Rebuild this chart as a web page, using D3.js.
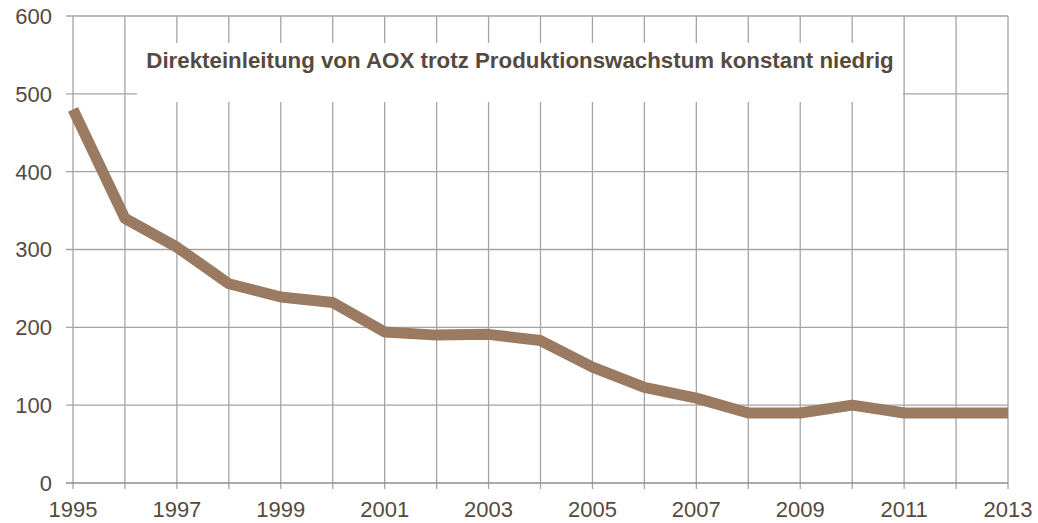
<!DOCTYPE html>
<html>
<head>
<meta charset="utf-8">
<script src="https://cdn.jsdelivr.net/npm/d3@7"></script>
<style>
  body { margin: 0; background: #fff; }
  svg { display: block; font-family: Arial, "Liberation Sans", sans-serif; }
</style>
</head>
<body>
<svg id="drawing_region"></svg>
<script>
// data
const years = [1995, 1996, 1997, 1998, 1999, 2000, 2001, 2002, 2003, 2004,
               2005, 2006, 2007, 2008, 2009, 2010, 2011, 2012, 2013];
const aox = [480, 340, 303, 256, 239, 232, 194, 190, 191, 183,
             149, 123, 109, 90, 90, 100, 90, 90, 90];
const yTicks = [0, 100, 200, 300, 400, 500, 600];
const xLabels = [1995, 1997, 1999, 2001, 2003, 2005, 2007, 2009, 2011, 2013];
const title = "Direkteinleitung von AOX trotz Produktionswachstum konstant niedrig";

const config = {
    width: 1038,
    height: 523,
    margin: {top: 16, right: 30, bottom: 40, left: 73}
};

const svg = d3.select('#drawing_region')
    .attr('width', config.width)
    .attr('height', config.height);

const innerW = 1008 - config.margin.left;
const innerH = 483 - config.margin.top;

const chart = svg.append('g')
    .attr('transform', `translate(${config.margin.left}, ${config.margin.top})`);

const x = d3.scaleLinear().domain([1995, 2013]).range([0, innerW]);
const y = d3.scaleLinear().domain([0, 600]).range([innerH, 0]);

const gridColor = '#a6a4a2';
const textColor = '#564a40';

// vertical grid lines
chart.selectAll('.vgrid')
    .data(years)
    .enter()
    .append('line')
    .attr('x1', d => x(d)).attr('x2', d => x(d))
    .attr('y1', 0).attr('y2', innerH + 6)
    .attr('stroke', gridColor)
    .attr('stroke-width', 1.3);

// horizontal grid lines
chart.selectAll('.hgrid')
    .data(yTicks)
    .enter()
    .append('line')
    .attr('x1', -7).attr('x2', innerW)
    .attr('y1', d => y(d)).attr('y2', d => y(d))
    .attr('stroke', d => d === 0 ? '#8f8c89' : gridColor)
    .attr('stroke-width', 1.3);

// y tick labels
chart.selectAll('.ylab')
    .data(yTicks)
    .enter()
    .append('text')
    .attr('x', -21)
    .attr('y', d => y(d))
    .attr('dy', '0.36em')
    .attr('text-anchor', 'end')
    .attr('font-size', '22px')
    .attr('fill', textColor)
    .text(d => d);

// x tick labels
chart.selectAll('.xlab')
    .data(xLabels)
    .enter()
    .append('text')
    .attr('x', d => x(d))
    .attr('y', innerH + 34)
    .attr('text-anchor', 'middle')
    .attr('font-size', '22px')
    .attr('fill', textColor)
    .text(d => d);

// title box covering the grid
svg.append('rect')
    .attr('x', 137).attr('y', 43)
    .attr('width', 766).attr('height', 59)
    .attr('fill', '#fff');

svg.append('text')
    .attr('x', 520)
    .attr('y', 68)
    .attr('text-anchor', 'middle')
    .attr('font-size', '22.3px')
    .attr('font-weight', 700)
    .attr('fill', textColor)
    .text(title);

// data line
const line = d3.line()
    .x((d, i) => x(years[i]))
    .y(d => y(d));

chart.append('path')
    .datum(aox)
    .attr('d', line)
    .attr('fill', 'none')
    .attr('stroke', '#9a7a61')
    .attr('stroke-width', 11)
    .attr('stroke-linejoin', 'round');
</script>
</body>
</html>
